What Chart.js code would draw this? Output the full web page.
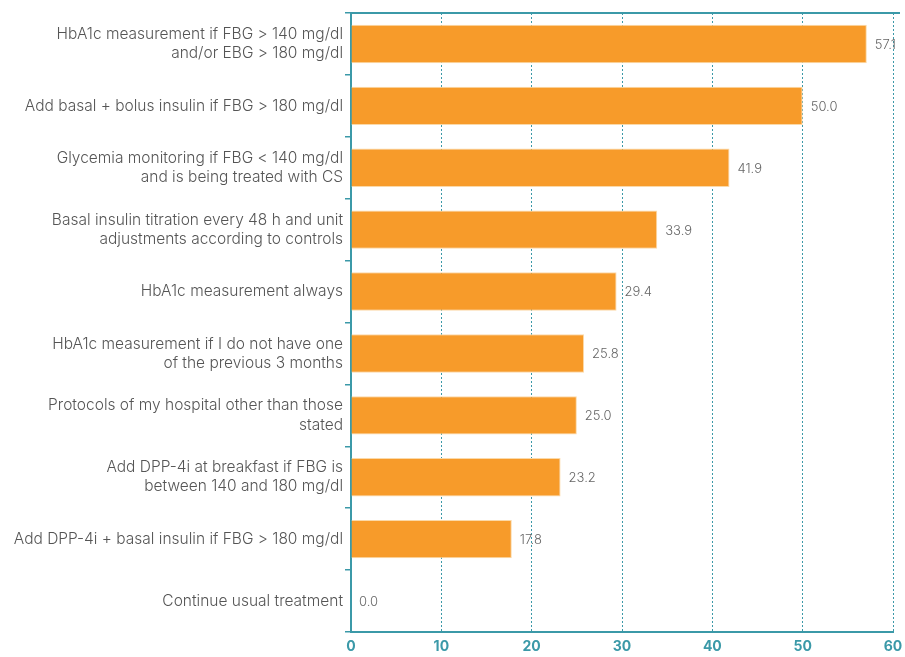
<!DOCTYPE html>
<html>
<head>
<meta charset="utf-8">
<script src="https://cdn.jsdelivr.net/npm/chart.js@4"></script>
<style>
  html,body{margin:0;padding:0;background:#fff}
  #wrap{width:905px;height:657px;position:relative}
</style>
</head>
<body>
<div id="wrap"><canvas id="c"></canvas></div>
<script>
// categories (multi-line where the picture wraps)
const labels = [
  ['HbA1c measurement if FBG > 140 mg/dl','and/or EBG > 180 mg/dl'],
  'Add basal + bolus insulin if FBG > 180 mg/dl',
  ['Glycemia monitoring if FBG < 140 mg/dl','and is being treated with CS'],
  ['Basal insulin titration every 48 h and unit','adjustments according to controls'],
  'HbA1c measurement always',
  ['HbA1c measurement if I do not have one','of the previous 3 months'],
  ['Protocols of my hospital other than those','stated'],
  ['Add DPP-4i at breakfast if FBG is','between 140 and 180 mg/dl'],
  'Add DPP-4i + basal insulin if FBG > 180 mg/dl',
  'Continue usual treatment'
];
const values = [57.1, 50.0, 41.9, 33.9, 29.4, 25.8, 25.0, 23.2, 17.8, 0.0];
const xTicks = [0, 10, 20, 30, 40, 50, 60];

const TEAL = '#3b99a8';
const ORANGE = '#f79b2a';
const FONT = 'Inter, "Open Sans", sans-serif';

// value labels at the end of each bar, plus the frame line along the top
const extras = {
  id:'extras',
  afterDraw(chart){
    const ctx = chart.ctx;
    const meta = chart.getDatasetMeta(0);
    const a = chart.chartArea;
    ctx.save();
    ctx.font = '300 13px ' + FONT;
    ctx.fillStyle = '#666';
    ctx.textBaseline = 'middle';
    meta.data.forEach((bar,i)=>{
      ctx.fillText(values[i].toFixed(1), bar.x + 8, bar.y + 1);
    });
    ctx.fillStyle = TEAL;
    ctx.fillRect(a.left - 1, a.top - 1, chart.width - 4 - a.left, 2);
    ctx.restore();
  }
};

new Chart(document.getElementById('c'), {
  type:'bar',
  data:{
    labels,
    datasets:[{
      data:values,
      backgroundColor:ORANGE,
      borderColor:'#fbd9a8',
      borderWidth:1,
      categoryPercentage:1,
      barPercentage:0.62
    }]
  },
  options:{
    indexAxis:'y',
    responsive:true,
    maintainAspectRatio:false,
    animation:false,
    layout:{padding:{top:13, right:12, left:0, bottom:0}},
    plugins:{legend:{display:false}, tooltip:{enabled:false}},
    scales:{
      x:{
        min:0, max:60,
        afterBuildTicks(ax){ ax.ticks = xTicks.map(v=>({value:v})); },
        afterFit(ax){ ax.paddingRight = 0; ax.paddingLeft = 0; ax.height = 25; },
        grid:{color:TEAL, lineWidth:1, drawTicks:false},
        border:{color:TEAL, width:2, dash:[2,2]},
        ticks:{color:TEAL, padding:6, font:{family:FONT, size:14, weight:'bold'}}
      },
      y:{
        afterFit(ax){ ax.width = 351; },
        grid:{offset:true, drawOnChartArea:false, color:TEAL, tickLength:6, lineWidth:1.5},
        border:{color:TEAL, width:2},
        ticks:{color:'#555', padding:2, font:{family:FONT, size:15.5, weight:300, lineHeight:1.23}}
      }
    }
  },
  plugins:[extras]
});
</script>
</body>
</html>
